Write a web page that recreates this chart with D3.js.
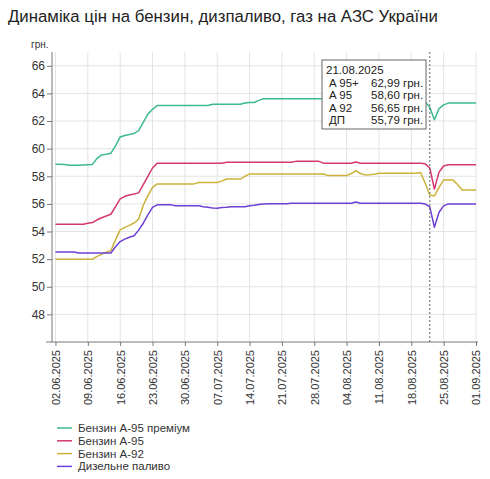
<!DOCTYPE html>
<html>
<head>
<meta charset="utf-8">
<title>Динаміка цін на пальне</title>
<script src="https://cdn.jsdelivr.net/npm/d3@7"></script>
<style>
  body { margin: 0; background: #fff; }
  svg { font-family: "Liberation Sans", Arial, sans-serif; }
  .grid line { stroke: #e3e3e3; }
  .axis path, .axis line { stroke: #777; }
  .axis text { fill: #333; }
</style>
</head>
<body>
<div id="chart"></div>
<script>
// series names and colours
var seriesNames = ["Бензин А-95 преміум", "Бензин А-95", "Бензин А-92", "Дизельне паливо"];
var seriesColors = ["#3dba8c", "#d5386d", "#cbb23a", "#6e40d6"];

// one value per day, 02.06.2025 .. 01.09.2025
var a95plus = [
  58.88,58.88,58.86,58.80,58.80,58.80,58.82,58.84,58.86,59.30,
  59.55,59.60,59.67,60.20,60.85,60.95,61.02,61.10,61.30,61.90,
  62.50,62.85,63.12,63.12,63.12,63.12,63.12,63.12,63.12,63.12,
  63.12,63.12,63.12,63.12,63.22,63.22,63.22,63.22,63.22,63.22,
  63.22,63.30,63.34,63.34,63.50,63.62,63.62,63.62,63.62,63.62,
  63.62,63.62,63.62,63.62,63.62,63.62,63.62,63.62,63.62,63.62,
  63.62,63.62,63.62,63.62,63.62,63.62,63.62,63.62,63.62,63.62,
  63.62,63.62,63.62,63.62,63.62,63.62,63.62,63.62,63.62,63.55,
  63.40,62.99,62.09,62.90,63.17,63.30,63.30,63.30,63.30,63.30,
  63.30,63.30
];
var a95 = [
  54.53,54.53,54.53,54.53,54.53,54.53,54.53,54.60,54.65,54.85,
  55.00,55.12,55.25,55.80,56.36,56.55,56.65,56.72,56.80,57.40,
  58.00,58.60,58.95,58.95,58.95,58.95,58.95,58.95,58.95,58.95,
  58.95,58.95,58.95,58.95,58.95,58.95,58.95,59.02,59.02,59.02,
  59.02,59.02,59.02,59.02,59.02,59.02,59.02,59.02,59.02,59.02,
  59.02,59.02,59.08,59.08,59.08,59.08,59.08,59.08,58.95,58.95,
  58.95,58.95,58.95,58.95,58.95,59.04,58.95,58.95,58.95,58.95,
  58.95,58.95,58.95,58.95,58.95,58.95,58.95,58.95,58.95,58.95,
  58.90,58.60,57.07,58.30,58.75,58.83,58.83,58.83,58.83,58.83,
  58.83,58.83
];
var a92 = [
  52.00,52.00,52.00,52.00,52.00,52.00,52.00,52.00,52.00,52.20,
  52.35,52.50,52.62,53.40,54.12,54.30,54.45,54.62,54.90,55.90,
  56.60,57.20,57.45,57.45,57.45,57.45,57.45,57.45,57.45,57.45,
  57.45,57.55,57.55,57.55,57.55,57.55,57.65,57.80,57.80,57.80,
  57.80,58.00,58.17,58.17,58.17,58.17,58.17,58.17,58.17,58.17,
  58.17,58.17,58.17,58.17,58.17,58.17,58.17,58.17,58.17,58.05,
  58.05,58.05,58.05,58.05,58.20,58.41,58.20,58.10,58.12,58.15,
  58.22,58.22,58.22,58.22,58.22,58.22,58.22,58.22,58.22,58.27,
  57.50,56.65,56.58,57.20,57.74,57.74,57.74,57.40,57.00,57.00,
  57.00,57.00
];
var diesel = [
  52.52,52.52,52.52,52.52,52.52,52.45,52.45,52.45,52.45,52.45,
  52.45,52.45,52.45,52.90,53.27,53.45,53.59,53.70,54.10,54.60,
  55.20,55.75,55.93,55.93,55.93,55.93,55.86,55.86,55.86,55.86,
  55.86,55.86,55.80,55.75,55.70,55.69,55.74,55.76,55.80,55.80,
  55.80,55.80,55.86,55.90,55.95,56.00,56.02,56.02,56.02,56.02,
  56.02,56.05,56.05,56.05,56.05,56.05,56.05,56.05,56.05,56.05,
  56.05,56.05,56.05,56.05,56.05,56.14,56.05,56.05,56.05,56.05,
  56.05,56.05,56.05,56.05,56.05,56.05,56.05,56.05,56.05,56.05,
  56.00,55.79,54.31,55.40,55.86,56.00,56.00,56.00,56.00,56.00,
  56.00,56.00
];

// tooltip shown in the picture
var tipDate = "21.08.2025";
var tipLabels = ["A 95+", "A 95", "A 92", "ДП"];
var tipValues = [62.99, 58.60, 56.65, 55.79];

var yTicks = [48, 50, 52, 54, 56, 58, 60, 62, 64, 66];

var W = 490, H = 479;
var margin = {top: 52, right: 14, bottom: 137, left: 52};

var dates = d3.timeDay.range(new Date(2025, 5, 2), new Date(2025, 8, 2));
var allSeries = [a95plus, a95, a92, diesel];

var svg = d3.select("#chart").append("svg")
  .attr("width", W).attr("height", H);

var x = d3.scaleTime()
  .domain([new Date(2025, 5, 1, 6), new Date(2025, 8, 1)])
  .range([margin.left, W - margin.right]);
var y = d3.scaleLinear()
  .domain([46, 67])
  .range([H - margin.bottom, margin.top]);

var xTicks = d3.timeMonday.range(new Date(2025, 5, 2), new Date(2025, 8, 2));

// title
svg.append("text")
  .attr("x", 8).attr("y", 22)
  .attr("font-size", 16.8).attr("fill", "#222")
  .text("Динаміка цін на бензин, дизпаливо, газ на АЗС України");

// grid
var grid = svg.append("g").attr("class", "grid");
grid.selectAll(".v").data(xTicks).enter().append("line")
  .attr("x1", d => x(d)).attr("x2", d => x(d))
  .attr("y1", y(67)).attr("y2", y(46));
grid.selectAll(".h").data(yTicks).enter().append("line")
  .attr("x1", x.range()[0]).attr("x2", x.range()[1])
  .attr("y1", d => y(d)).attr("y2", d => y(d));

// axes
var yAxis = svg.append("g").attr("class", "axis")
  .attr("transform", "translate(" + margin.left + ",0)")
  .call(d3.axisLeft(y).tickValues(yTicks).tickSize(5).tickSizeOuter(0).tickPadding(2));
yAxis.selectAll("text").attr("font-size", 12);
yAxis.select(".domain").attr("d", "M0," + y(67) + "V" + y(46));

var xAxis = svg.append("g").attr("class", "axis")
  .attr("transform", "translate(0," + y(46) + ")")
  .call(d3.axisBottom(x).tickValues(xTicks).tickSize(4).tickSizeOuter(0)
    .tickFormat(d3.timeFormat("%d.%m.%Y")));
xAxis.select(".domain").attr("d", "M" + (margin.left - 6) + ",0H" + (W - margin.right + 2));
xAxis.selectAll("text")
  .attr("font-size", 11)
  .attr("text-anchor", "end")
  .attr("transform", "rotate(-90)")
  .attr("x", -8).attr("y", 0).attr("dy", "0.35em");

svg.append("text")
  .attr("x", 31).attr("y", 47.5)
  .attr("font-size", 10).attr("fill", "#333")
  .text("грн.");

// lines
var line = d3.line()
  .x((d, i) => x(dates[i]))
  .y(d => y(d));
svg.selectAll(".series").data(allSeries).enter().append("path")
  .attr("fill", "none")
  .attr("stroke", (d, i) => seriesColors[i])
  .attr("stroke-width", 1.5)
  .attr("stroke-linejoin", "round")
  .attr("d", line);

// crosshair + tooltip
var hx = x(new Date(2025, 7, 22));
svg.append("line")
  .attr("x1", hx).attr("x2", hx)
  .attr("y1", y(67)).attr("y2", y(46))
  .attr("stroke", "#666").attr("stroke-dasharray", "2,2");

var tip = svg.append("g").attr("transform", "translate(322,60)");
tip.append("rect")
  .attr("width", 104).attr("height", 69)
  .attr("fill", "#fff").attr("stroke", "#666");
tip.append("text")
  .attr("x", 4).attr("y", 14)
  .attr("font-size", 11.5).attr("fill", "#222")
  .text(tipDate);
var fmt = d3.format(".2f");
tipLabels.forEach(function(l, i) {
  tip.append("text")
    .attr("x", 7).attr("y", 26.5 + i * 12.6)
    .attr("font-size", 11.5).attr("fill", "#222")
    .text(l);
  tip.append("text")
    .attr("x", 49).attr("y", 26.5 + i * 12.6)
    .attr("font-size", 11.5).attr("fill", "#222")
    .text(fmt(tipValues[i]).replace(".", ",") + " грн.");
});

// legend
var legend = svg.append("g");
seriesNames.forEach(function(n, i) {
  var ly = 428 + i * 12.8;
  legend.append("line")
    .attr("x1", 57).attr("x2", 72)
    .attr("y1", ly).attr("y2", ly)
    .attr("stroke", seriesColors[i]).attr("stroke-width", 1.5);
  legend.append("text")
    .attr("x", 78).attr("y", ly).attr("dy", "0.35em")
    .attr("font-size", 11.5).attr("fill", "#333")
    .text(n);
});
</script>
</body>
</html>
